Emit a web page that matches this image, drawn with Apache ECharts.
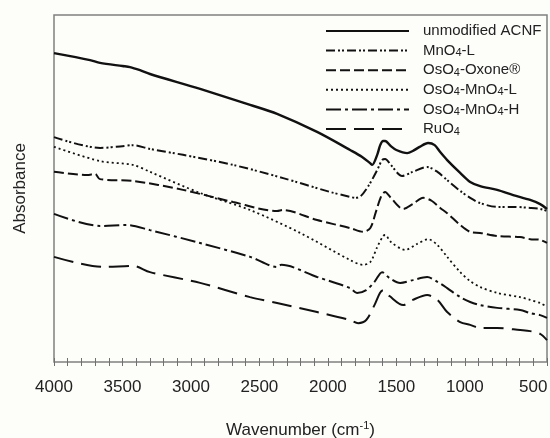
<!DOCTYPE html>
<html>
<head>
<meta charset="utf-8">
<script src="https://cdn.jsdelivr.net/npm/echarts@6/dist/echarts.min.js"></script>
<style>
  html, body { margin: 0; padding: 0; background: #fdfdfa; }
  #chart { width: 550px; height: 438px; }
</style>
</head>
<body>
<div id="chart"></div>
<script>
// wavenumbers (cm-1) and absorbance (a.u.) for each spectrum
const wnACNF = [4000, 3737, 3664, 3500, 3445, 3372, 3299, 2933, 2568, 2371, 2079, 1838, 1750, 1692, 1677, 1640, 1618, 1597, 1582, 1540, 1500, 1421, 1380, 1330, 1268, 1220, 1180, 1129, 1034, 961, 888, 764, 647, 523, 450, 400];
const absACNF = [89.0, 87.0, 86.2, 85.3, 85.0, 84.1, 83.0, 78.7, 74.1, 71.5, 66.3, 61.1, 59.1, 57.3, 56.8, 59.7, 62.5, 63.7, 63.7, 62.2, 61.1, 60.2, 60.8, 62.0, 63.1, 62.5, 60.5, 58.2, 54.5, 51.9, 50.7, 49.6, 48.1, 46.7, 45.5, 44.1];

const wnMnL = [4000, 3664, 3500, 3423, 3300, 3058, 2692, 2327, 1984, 1838, 1801, 1760, 1700, 1640, 1604, 1582, 1540, 1458, 1380, 1275, 1200, 1129, 1034, 961, 888, 764, 647, 523, 450, 400];
const absMnL = [64.8, 61.7, 62.2, 62.5, 61.4, 59.7, 56.8, 53.0, 49.0, 47.6, 47.3, 47.8, 51.0, 55.3, 58.2, 58.5, 56.8, 53.6, 54.8, 56.2, 54.8, 52.4, 49.3, 47.3, 45.8, 44.7, 44.7, 44.4, 44.1, 43.5];

const wnOxone = [4000, 3759, 3700, 3664, 3423, 3058, 2692, 2371, 2330, 2079, 1838, 1743, 1690, 1650, 1610, 1582, 1540, 1450, 1380, 1304, 1240, 1180, 1129, 1034, 961, 888, 764, 596, 523, 450, 400];
const absOxone = [54.8, 53.9, 54.2, 52.7, 52.2, 49.6, 46.1, 43.5, 43.8, 40.9, 38.6, 37.5, 38.6, 43.2, 47.8, 49.0, 47.3, 44.1, 45.5, 47.3, 46.4, 44.4, 42.9, 39.5, 37.5, 37.2, 36.3, 36.0, 35.4, 35.2, 34.3];

const wnOsMnL = [4000, 3664, 3423, 3299, 2933, 2568, 2203, 1838, 1743, 1690, 1640, 1597, 1582, 1540, 1436, 1350, 1268, 1200, 1129, 1034, 961, 888, 764, 596, 523, 450, 400];
const absOsMnL = [62.0, 57.9, 56.8, 54.8, 48.7, 43.8, 37.2, 29.4, 28.0, 28.8, 33.1, 36.3, 36.6, 34.6, 32.3, 34.0, 35.4, 33.7, 30.3, 25.9, 23.3, 21.6, 19.9, 18.7, 17.9, 17.0, 15.9];

const wnOsMnH = [4000, 3664, 3467, 3299, 2933, 2568, 2371, 2340, 2079, 1838, 1787, 1720, 1660, 1604, 1550, 1472, 1380, 1275, 1200, 1129, 1034, 961, 888, 764, 596, 523, 450, 400];
const absOsMnH = [42.7, 39.2, 39.5, 38.0, 34.3, 30.3, 27.4, 28.0, 24.5, 21.3, 19.9, 20.7, 23.1, 25.9, 24.2, 22.8, 23.6, 24.5, 23.1, 21.3, 18.7, 17.3, 16.4, 15.6, 15.0, 14.1, 13.5, 12.7];

const wnRu = [4000, 3642, 3423, 3299, 2933, 2568, 2371, 2079, 1838, 1779, 1720, 1660, 1620, 1597, 1550, 1450, 1380, 1275, 1200, 1129, 1034, 961, 888, 764, 596, 523, 450, 400];
const absRu = [30.3, 27.4, 27.7, 25.9, 22.8, 18.7, 17.0, 14.4, 12.1, 11.2, 12.1, 16.4, 19.9, 20.7, 19.0, 16.4, 17.9, 19.3, 17.9, 14.4, 11.5, 10.7, 9.8, 9.8, 9.2, 8.9, 8.1, 6.3];

const names = ['unmodified ACNF', 'MnO4-L', 'OsO4-Oxone®', 'OsO4-MnO4-L', 'OsO4-MnO4-H', 'RuO4'];
const legendText = {
  'unmodified ACNF': 'unmodified ACNF',
  'MnO4-L': 'MnO{sub|4}-L',
  'OsO4-Oxone®': 'OsO{sub|4}-Oxone®',
  'OsO4-MnO4-L': 'OsO{sub|4}-MnO{sub|4}-L',
  'OsO4-MnO4-H': 'OsO{sub|4}-MnO{sub|4}-H',
  'RuO4': 'RuO{sub|4}'
};

const wns = [wnACNF, wnMnL, wnOxone, wnOsMnL, wnOsMnH, wnRu];
const abss = [absACNF, absMnL, absOxone, absOsMnL, absOsMnH, absRu];
// line dash of each spectrum
const dashes = ['solid', [9, 3, 2, 2, 2, 3], [10, 4], [2, 3], [15, 4, 3, 4], [20, 8]];
const widths = [2.4, 2, 2, 1.8, 2, 2];

const font = 'Liberation Sans, Arial, sans-serif';
const axisGrey = '#808080';
const tickStyle = { show: true, inside: true, length: 4, lineStyle: { color: '#707070', width: 1 } };

let chart = echarts.init(document.getElementById('chart'));

const series = names.map((n, i) => ({
  name: n,
  type: 'line',
  xAxisIndex: 0,
  yAxisIndex: 0,
  symbol: 'none',
  smooth: 0.3,
  data: wns[i].map((w, k) => [w, abss[i][k]]),
  lineStyle: { color: '#111', width: widths[i], type: dashes[i] },
  itemStyle: { color: '#111' }
}));

chart.setOption({
  backgroundColor: '#fdfdfa',
  animation: false,
  // the grid border is the frame round the plot
  grid: {
    left: 54, right: 3, top: 15, bottom: 76, outerBoundsMode: 'none',
    show: true, borderColor: axisGrey, borderWidth: 1.5, backgroundColor: 'transparent'
  },
  legend: {
    orient: 'vertical',
    left: 320,
    top: 18,
    itemWidth: 83,
    itemHeight: 16,
    itemGap: 2.6,
    data: names,
    itemStyle: { opacity: 0 },
    formatter: n => legendText[n],
    textStyle: {
      fontFamily: font,
      fontSize: 15,
      lineHeight: 16,
      color: '#222',
      padding: [0, 0, 0, 9],
      rich: {
        sub: { fontFamily: font, fontSize: 11, lineHeight: 16, verticalAlign: 'bottom', padding: [6, 0, 0, 0], color: '#222' }
      }
    }
  },
  xAxis: [
    {
      type: 'value',
      position: 'bottom',
      min: 400,
      max: 4000,
      interval: 100,
      inverse: true,
      name: 'Wavenumber (cm{sup|-1})',
      nameLocation: 'middle',
      nameGap: 58,
      nameTextStyle: {
        fontFamily: font, fontSize: 17, color: '#222',
        rich: { sup: { fontFamily: font, fontSize: 11, verticalAlign: 'top', padding: [0, 0, 10, 0], color: '#222' } }
      },
      axisLine: { show: false },
      axisTick: tickStyle,
      axisLabel: {
        fontFamily: font, fontSize: 17, color: '#222', margin: 17,
        formatter: v => (v % 500 === 0 ? String(v) : '')
      },
      splitLine: { show: false }
    },
    {
      type: 'value',
      position: 'top',
      min: 400,
      max: 4000,
      interval: 100,
      inverse: true,
      axisLine: { show: false },
      axisTick: tickStyle,
      axisLabel: { show: false },
      splitLine: { show: false }
    }
  ],
  yAxis: [
    {
      type: 'value',
      position: 'left',
      min: 0,
      max: 100,
      name: 'Absorbance',
      nameLocation: 'middle',
      nameGap: 25,
      nameTextStyle: { fontFamily: font, fontSize: 17, color: '#222' },
      axisLine: { show: false },
      axisTick: { show: false },
      axisLabel: { show: false },
      splitLine: { show: false }
    },
    {
      type: 'value',
      position: 'right',
      min: 0,
      max: 100,
      axisLine: { show: false },
      axisTick: { show: false },
      axisLabel: { show: false },
      splitLine: { show: false }
    }
  ],
  series: series
});
</script>
</body>
</html>
